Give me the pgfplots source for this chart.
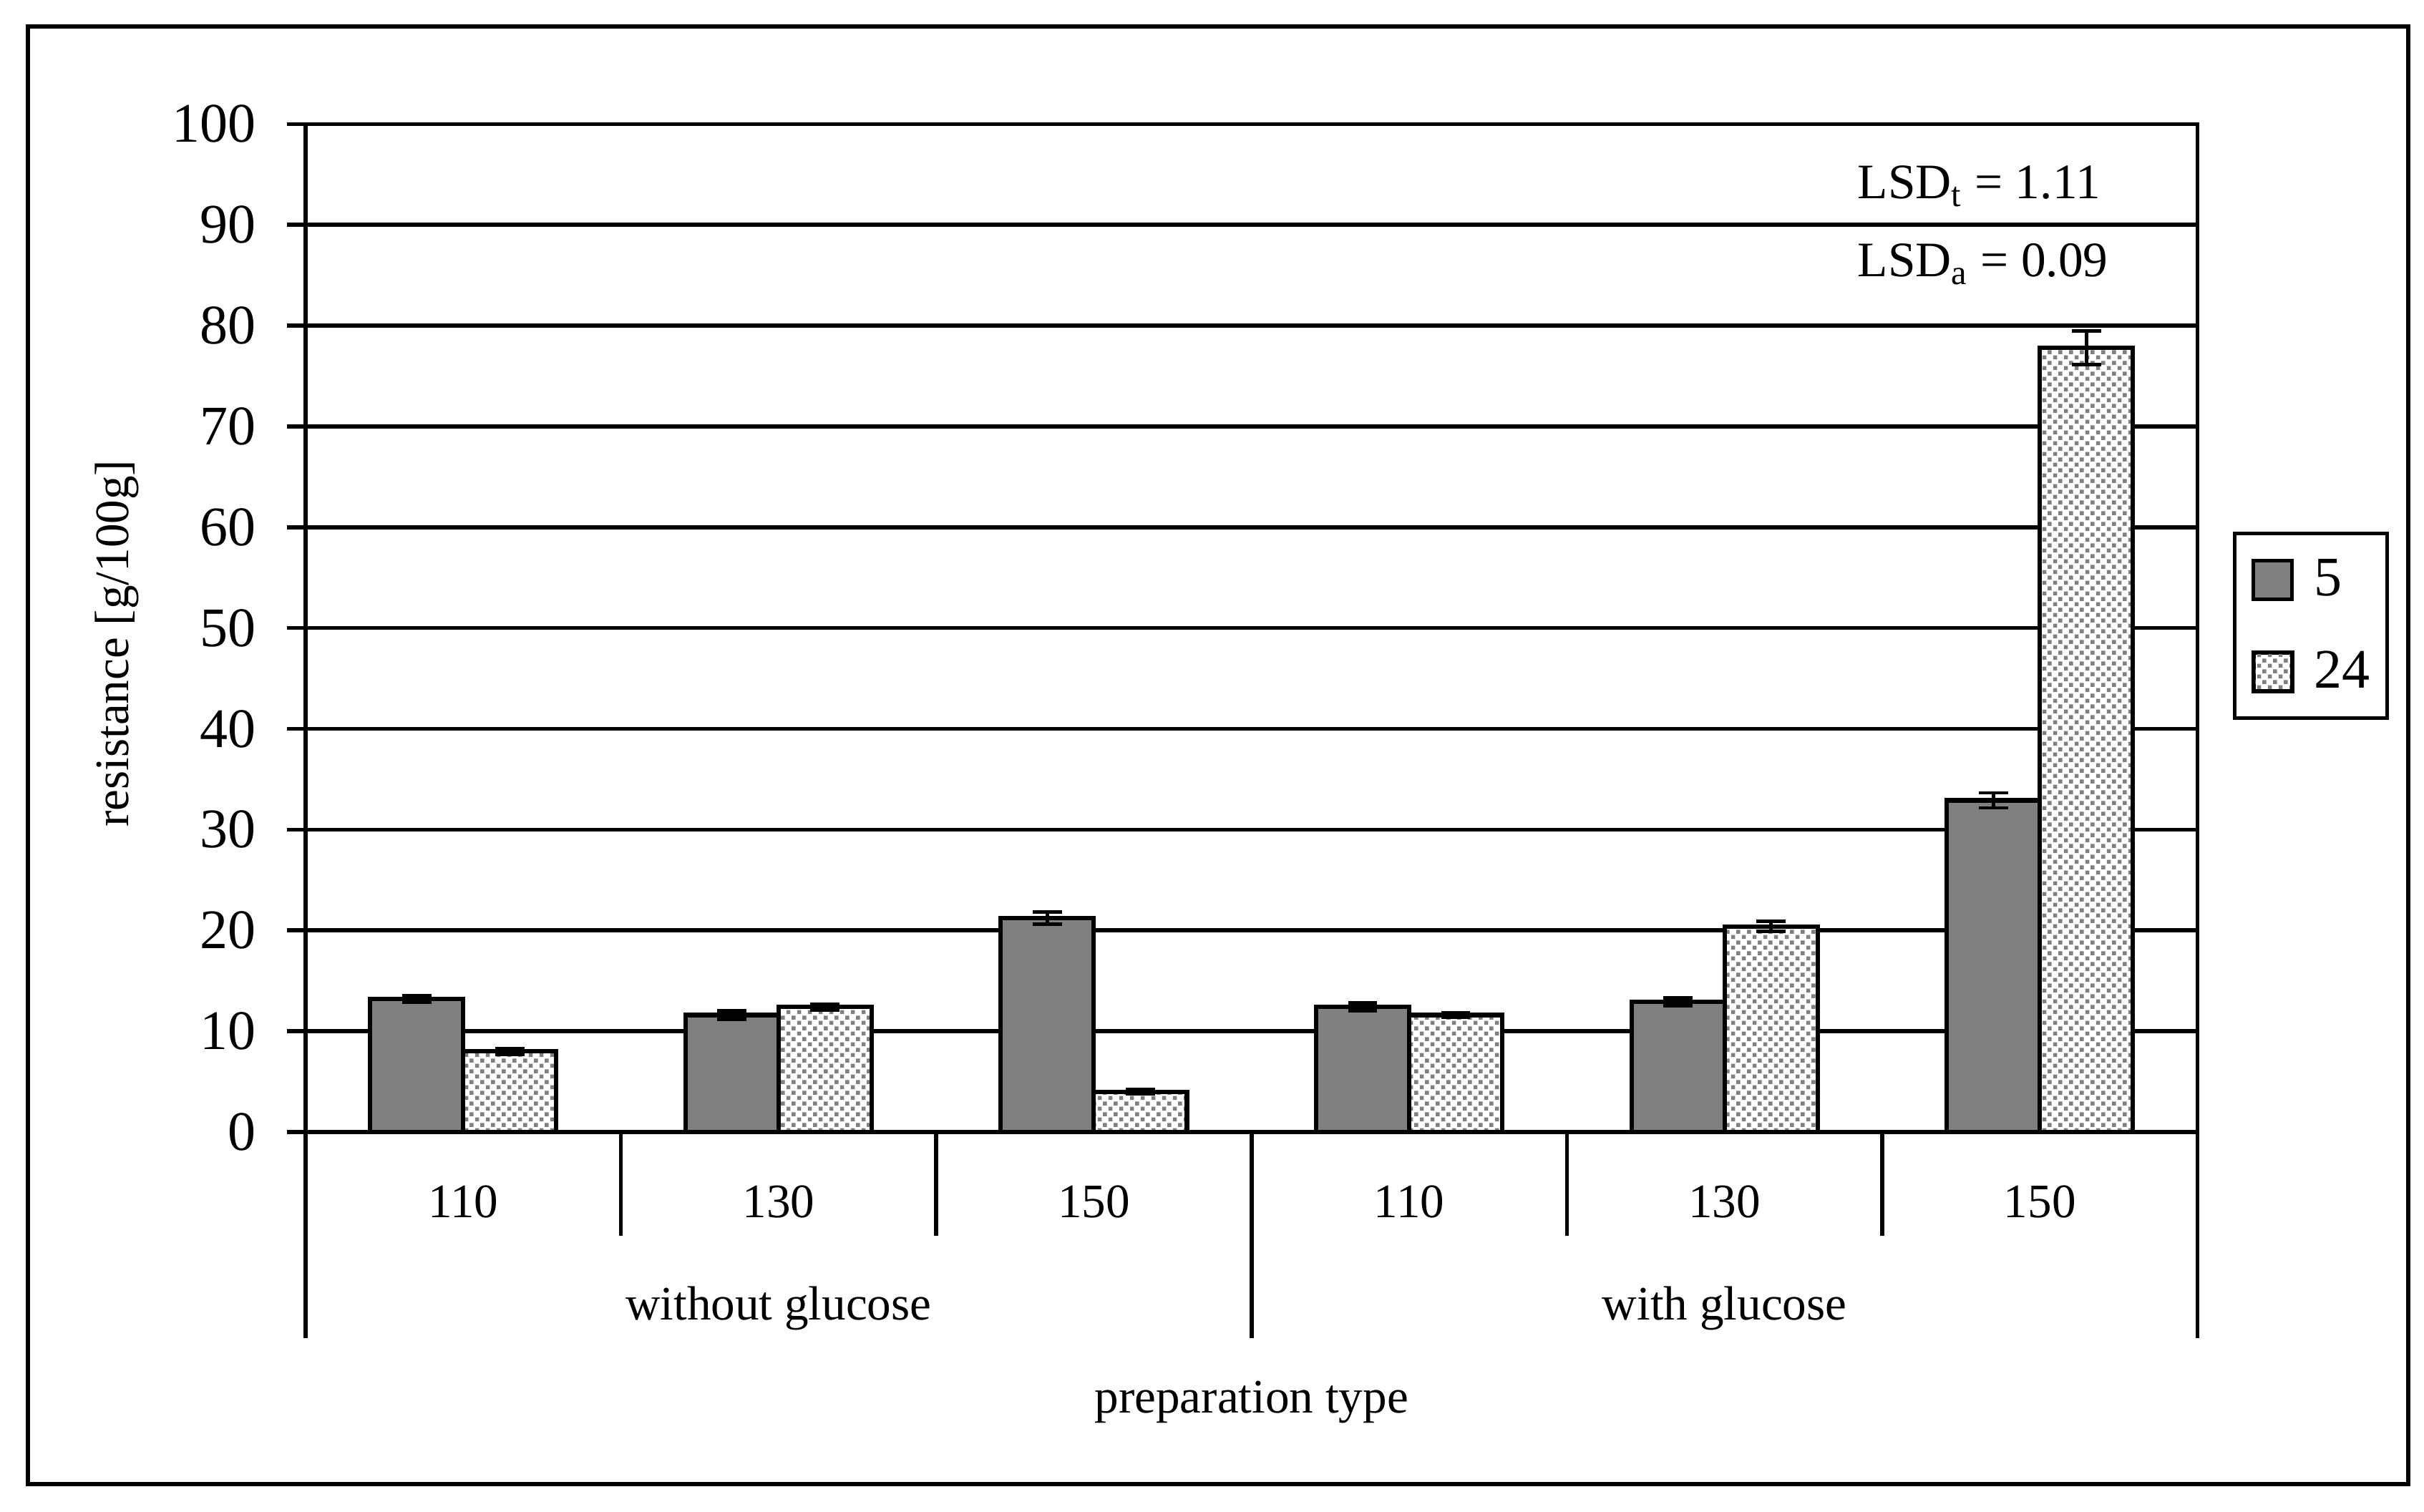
\documentclass[border=0pt]{standalone}
\usepackage{fontspec}
\setmainfont{Liberation Serif}
\usepackage{pgfplots}
\pgfplotsset{compat=1.18}
\usetikzlibrary{patterns.meta}

% small grey checker used for the 24 h bars
\tikzdeclarepattern{
  name=fine checker,
  type=uncolored,
  bottom left={(0pt,0pt)},
  top right={(3.4pt,3.4pt)},
  tile size={(3.4pt,3.4pt)},
  code={
    \fill (0.2pt,0.2pt) rectangle (1.5pt,1.5pt);
    \fill (1.9pt,1.9pt) rectangle (3.2pt,3.2pt);
  }
}

\newcommand\ticksize{\fontsize{18}{18}\selectfont}
\newcommand\labsize{\fontsize{15.5}{15.5}\selectfont}
\newcommand\lsdsize{\fontsize{16}{16}\selectfont}

\begin{document}
\begin{tikzpicture}
\useasboundingbox (-98.5pt,-122.5pt) rectangle (683pt,365pt);
\draw[line width=1.4pt] (-89.5pt,-113.5pt) rectangle (678pt,356.5pt);
\begin{axis}[
    at={(0pt,0pt)}, anchor=south west,
    scale only axis,
    width=610pt, height=325pt,
    ybar=0pt, bar width=30pt,
    xmin=-0.5, xmax=5.5,
    ymin=0, ymax=100,
    xtick={0,1,2,3,4,5},
    xticklabels={110,130,150,110,130,150},
    ytick={0,10,...,100},
    x tick style={draw=none},
    ytick pos=left,
    tick align=outside,
    major tick length=6pt,
    y tick style={black, line width=1.3pt},
    ymajorgrids=true,
    grid style={black, line width=1.3pt},
    axis line style={black, line width=1.3pt},
    yticklabel style={font=\ticksize, xshift=-6.5pt, /pgf/number format/assume math mode=true},
    xticklabel style={font=\labsize, anchor=base, yshift=-21.5pt},
    every axis x label/.style={at={(axis description cs:0.5,0)}, anchor=base, yshift=-90.5pt, font=\labsize},
    every axis y label/.style={at={(axis description cs:0,0.4846)}, rotate=90, anchor=base, yshift=57pt, font=\labsize},
    xlabel={preparation type},
    ylabel={resistance [g/100g]},
    clip=false,
    legend image code/.code={\draw[#1, line width=1.2pt] (0pt,-6.25pt) rectangle (12.5pt,6.25pt);},
    legend style={
        at={(axis description cs:1.0185,0.5954)}, anchor=north west,
        draw=black, line width=1.2pt,
        inner xsep=5.5pt, inner ysep=8pt,
        row sep=16pt,
        font=\ticksize,
        nodes={inner sep=0pt},
        /tikz/every odd column/.append style={column sep=6.5pt},
    },
    legend cell align=left,
]

\addplot[fill=gray, draw=black, line width=1.4pt,
    error bars/.cd, y dir=both, y explicit,
    error bar style={black, line width=1.1pt},
    error mark options={black, rotate=90, mark size=4.7pt, line width=1.1pt}]
    coordinates {
        (0,13.2) +- (0,0.35)
        (1,11.6) +- (0,0.4)
        (2,21.2) +- (0,0.6)
        (3,12.4) +- (0,0.4)
        (4,12.9) +- (0,0.4)
        (5,32.9) +- (0,0.75)
    };
\addlegendentry{5}

\addplot[preaction={fill=white}, pattern={fine checker}, pattern color=gray,
    draw=black, line width=1.4pt,
    error bars/.cd, y dir=both, y explicit,
    error bar style={black, line width=1.1pt},
    error mark options={black, rotate=90, mark size=4.7pt, line width=1.1pt}]
    coordinates {
        (0,8.0) +- (0,0.3)
        (1,12.4) +- (0,0.3)
        (2,4.0) +- (0,0.2)
        (3,11.6) +- (0,0.2)
        (4,20.4) +- (0,0.5)
        (5,77.8) +- (0,1.65)
    };
\addlegendentry{24}

% group separators below the axis
\draw[line width=1.3pt] (axis cs:0.5,0) -- ++(0pt,-33.5pt);
\draw[line width=1.3pt] (axis cs:1.5,0) -- ++(0pt,-33.5pt);
\draw[line width=1.3pt] (axis cs:3.5,0) -- ++(0pt,-33.5pt);
\draw[line width=1.3pt] (axis cs:4.5,0) -- ++(0pt,-33.5pt);
\draw[line width=1.3pt] (axis cs:-0.5,0) -- ++(0pt,-66.5pt);
\draw[line width=1.3pt] (axis cs:2.5,0) -- ++(0pt,-66.5pt);
\draw[line width=1.3pt] (axis cs:5.5,0) -- ++(0pt,-66.5pt);

\node[font=\labsize, anchor=base] at (axis cs:1,0) [yshift=-60.5pt] {without glucose};
\node[font=\labsize, anchor=base] at (axis cs:4,0) [yshift=-60.5pt] {with glucose};

\node[font=\lsdsize, anchor=base west, inner sep=0pt] at (axis cs:4.42,92.6) {LSD\textsubscript{t} = 1.11};
\node[font=\lsdsize, anchor=base west, inner sep=0pt] at (axis cs:4.42,84.9) {LSD\textsubscript{a} = 0.09};
\end{axis}
\end{tikzpicture}
\end{document}
